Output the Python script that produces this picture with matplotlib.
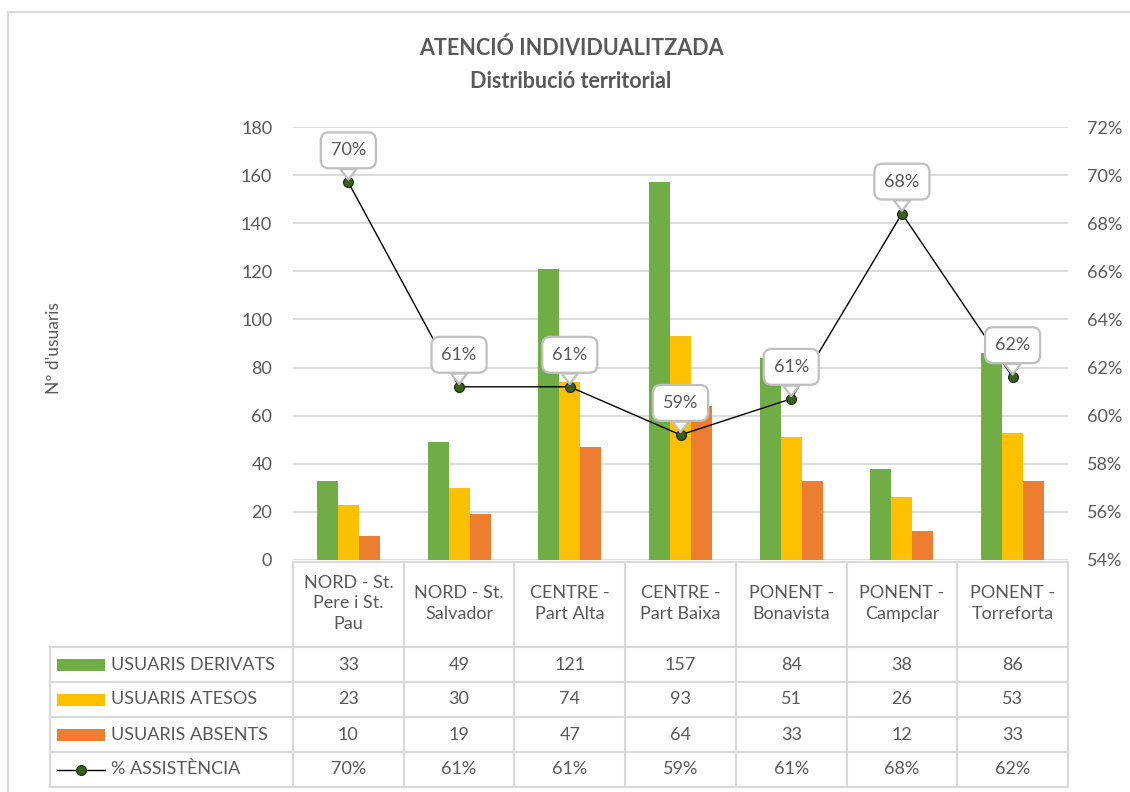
import numpy as np
import matplotlib
matplotlib.use("Agg")
import matplotlib.pyplot as plt
import matplotlib.transforms as mtransforms
from matplotlib.lines import Line2D
from matplotlib.patches import Rectangle

plt.rcParams['font.family'] = ['Lato', 'DejaVu Sans']

# ── data ───────────────────────────────────────────────────────────────────────
categories = ["NORD - St.\nPere i St.\nPau", "NORD - St.\nSalvador", "CENTRE -\nPart Alta",
              "CENTRE -\nPart Baixa", "PONENT -\nBonavista", "PONENT -\nCampclar",
              "PONENT -\nTorreforta"]
derivats = [33, 49, 121, 157, 84, 38, 86]
atesos = [23, 30, 74, 93, 51, 26, 53]
absents = [10, 19, 47, 64, 33, 12, 33]
assistencia = [69.7, 61.2, 61.2, 59.2, 60.7, 68.4, 61.6]   # %

series_names = ["USUARIS DERIVATS", "USUARIS ATESOS", "USUARIS ABSENTS", "% ASSISTÈNCIA"]
colors = ["#70AD47", "#FFC000", "#ED7D31"]
TXT = "#595959"
GRID = "#D9D9D9"

# ── figure / pixel helpers ─────────────────────────────────────────────────────
W, H = 1130, 792
fig = plt.figure(figsize=(W / 100, H / 100), dpi=100)

def fx(x):
    return x / W

def fy(y):
    return 1 - y / H

ax_l, ax_r, ax_t, ax_b = 293, 1068, 127, 560
ax = fig.add_axes([fx(ax_l), fy(ax_b), (ax_r - ax_l) / W, (ax_b - ax_t) / H])

x = np.arange(len(categories))
bw = 0.19
for i, (vals, c) in enumerate(zip([derivats, atesos, absents], colors)):
    ax.bar(x + (i - 1) * bw, vals, bw, color=c, zorder=2)

ax.set_xlim(-0.5, len(categories) - 0.5)
ax.set_ylim(0, 180)
ax.set_yticks(range(0, 181, 20))
ax.set_xticks([])
ax.grid(axis='y', color=GRID, lw=1.3, zorder=0)
for s in ax.spines.values():
    s.set_visible(False)
ax.tick_params(axis='y', length=0, pad=15, labelsize=13, labelcolor=TXT)
ax.set_ylabel("Nº d'usuaris", fontsize=12.5, color=TXT)
ax.yaxis.set_label_coords((62 - ax_l) / (ax_r - ax_l), 0.49)

# secondary axis with % line
ax2 = ax.twinx()
ax2.set_ylim(54, 72)
ax2.set_yticks(range(54, 73, 2))
ax2.set_yticklabels([f"{v}%" for v in range(54, 73, 2)])
for s in ax2.spines.values():
    s.set_visible(False)
ax2.tick_params(axis='y', length=0, pad=14, labelsize=13, labelcolor=TXT)
ax2.plot(x, assistencia, color='black', lw=1, marker='o', ms=7,
         mfc='#3A5F1E', mec='#1F3310', mew=1, zorder=4)

for xi, p in zip(x, assistencia):
    ax2.annotate(f"{round(p)}%", xy=(xi, p), xytext=(0, 32), textcoords='offset pixels',
                 ha='center', va='center', fontsize=13, color=TXT, zorder=5,
                 bbox=dict(boxstyle='round,pad=0.55,rounding_size=0.45', fc='white',
                           ec='#BFBFBF', lw=1.6),
                 arrowprops=dict(arrowstyle='wedge,tail_width=0.9,shrink_factor=0.5',
                                 fc='white', ec='#BFBFBF', lw=1.6, shrinkA=0, shrinkB=2))

# ── titles ─────────────────────────────────────────────────────────────────────
fig.text(fx(571), fy(48), "ATENCIÓ INDIVIDUALITZADA", ha='center', va='center',
         fontsize=15.5, fontweight='bold', color=TXT)
fig.text(fx(571), fy(82), "Distribució territorial", ha='center', va='center',
         fontsize=15.5, fontweight='bold', color=TXT)

# chart area border (left and top visible)
fig.add_artist(Rectangle((fx(8), fy(800)), fx(1140 - 8), (800 - 12) / H, fill=False,
                         ec=GRID, lw=1.5, transform=fig.transFigure))

# ── data table ─────────────────────────────────────────────────────────────────
bt = mtransforms.blended_transform_factory(ax.transData, fig.transFigure)
rows_y = [647, 682, 717, 752, 787]
tbl_left = 50

def fline(x0, x1, y0, y1, transform):
    fig.add_artist(Line2D([x0, x1], [y0, y1], color=GRID, lw=1.5, transform=transform,
                          clip_on=False))

xl, xr = -0.5, len(categories) - 0.5
# header row (category labels)
fline(xl, xr, fy(ax_b + 2), fy(ax_b + 2), bt)
for b in np.arange(len(categories) + 1) - 0.5:
    fline(b, b, fy(ax_b + 2), fy(rows_y[-1]), bt)
for xi, c in zip(x, categories):
    fig.text(xi, fy((ax_b + rows_y[0]) / 2), c, transform=bt, ha='center', va='center',
             fontsize=13, color=TXT, linespacing=1.35)

# body rows
for yy in rows_y:
    fline(fx(tbl_left), fx(ax_l), fy(yy), fy(yy), fig.transFigure)
    fline(xl, xr, fy(yy), fy(yy), bt)
fline(fx(tbl_left), fx(tbl_left), fy(rows_y[0]), fy(rows_y[-1]), fig.transFigure)

row_vals = [[str(v) for v in derivats], [str(v) for v in atesos], [str(v) for v in absents],
            [f"{round(p)}%" for p in assistencia]]
for r, (name, vals) in enumerate(zip(series_names, row_vals)):
    yc = (rows_y[r] + rows_y[r + 1]) / 2
    if r < 3:
        fig.add_artist(Rectangle((fx(57), fy(yc + 6)), fx(105 - 57), 12 / H,
                                 fc=colors[r], ec='none', transform=fig.transFigure))
    else:
        fig.add_artist(Line2D([fx(57), fx(105)], [fy(yc), fy(yc)], color='black', lw=1,
                              transform=fig.transFigure))
        fig.add_artist(Line2D([fx(81)], [fy(yc)], marker='o', ms=7, mfc='#3A5F1E',
                              mec='#1F3310', mew=1, transform=fig.transFigure))
    fig.text(fx(111), fy(yc), name, ha='left', va='center', fontsize=13, color=TXT)
    for xi, v in zip(x, vals):
        fig.text(xi, fy(yc), v, transform=bt, ha='center', va='center', fontsize=13,
                 color=TXT)

fig.savefig("out.png", dpi=100)
